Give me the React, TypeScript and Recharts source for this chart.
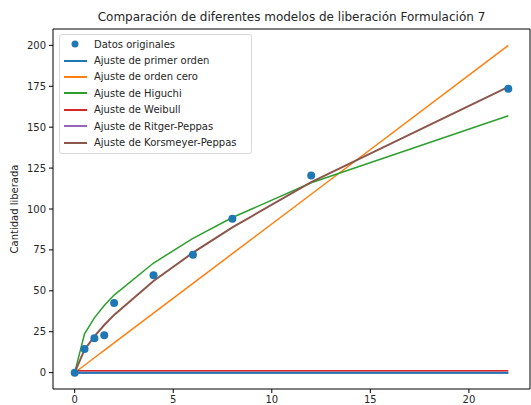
import {
  ComposedChart,
  Line,
  Scatter,
  XAxis,
  YAxis,
  ReferenceLine,
} from "recharts";

// tiempo de muestreo
const tiempos = [0, 0.5, 1, 1.5, 2, 4, 6, 8, 12, 22];
const datosOriginales = [0, 14.5, 21, 22.8, 42.5, 59.5, 72, 94, 120.5, 173.5];
const primerOrden = [0, 0, 0, 0, 0, 0, 0, 0, 0, 0];
const ordenCero = [0, 4.5, 9.1, 13.6, 18.2, 36.4, 54.5, 72.7, 109, 200];
const higuchi = [0, 23.7, 33.5, 41, 47.4, 67, 82, 94.8, 116, 157];
const weibull = [1.2, 1.2, 1.2, 1.2, 1.2, 1.2, 1.2, 1.2, 1.2, 1.2];
const ritgerPeppas = [0, 0, 0, 0, 0, 0, 0, 0, 0, 0];
const korsmeyerPeppas = [0, 14, 22.2, 29.1, 35.3, 56, 73.3, 88.8, 116.4, 174.6];

const xTicks = [0, 5, 10, 15, 20];
const yTicks = [0, 25, 50, 75, 100, 125, 150, 175, 200];
const xDomain = [-1.1, 23.1];
const yDomain = [-10, 210];

const rows = tiempos.map((t, i) => ({
  t,
  datos: datosOriginales[i],
  primer: primerOrden[i],
  cero: ordenCero[i],
  higuchi: higuchi[i],
  weibull: weibull[i],
  ritger: ritgerPeppas[i],
  korsmeyer: korsmeyerPeppas[i],
}));

const legendItems = [
  { name: "Datos originales", color: "#1f77b4", dot: true },
  { name: "Ajuste de primer orden", color: "#1f77b4" },
  { name: "Ajuste de orden cero", color: "#ff7f0e" },
  { name: "Ajuste de Higuchi", color: "#2ca02c" },
  { name: "Ajuste de Weibull", color: "#d62728" },
  { name: "Ajuste de Ritger-Peppas", color: "#9467bd" },
  { name: "Ajuste de Korsmeyer-Peppas", color: "#8c564b" },
];

const font = "'DejaVu Sans', sans-serif";
const tickStyle = { fontSize: 10, fill: "#262626", fontFamily: font };

function LegendBox() {
  return (
    <div
      style={{
        position: "absolute",
        left: 59,
        top: 34,
        width: 183,
        border: "1px solid #d9d9d9",
        borderRadius: 3,
        background: "rgba(255,255,255,0.8)",
        padding: "1px 5px 2px 3px",
        fontFamily: font,
        fontSize: 10,
        color: "#262626",
      }}
    >
      {legendItems.map((it) => (
        <div
          key={it.name}
          style={{ display: "flex", alignItems: "center", height: 16.4 }}
        >
          <svg width={31} height={10}>
            {it.dot ? (
              <circle cx={12} cy={5} r={3.5} fill={it.color} />
            ) : (
              <line x1={1} y1={5} x2={24} y2={5} stroke={it.color} strokeWidth={2} />
            )}
          </svg>
          <span>{it.name}</span>
        </div>
      ))}
    </div>
  );
}

export default function App() {
  return (
    <div style={{ position: "relative", width: 531, height: 405, background: "#fff" }}>
      <style>{`body{margin:0}`}</style>
      <div
        style={{
          position: "absolute",
          left: 53,
          width: 477,
          top: 10,
          textAlign: "center",
          fontFamily: font,
          fontSize: 12,
          color: "#262626",
        }}
      >
        Comparación de diferentes modelos de liberación Formulación 7
      </div>
      <div
        style={{
          position: "absolute",
          left: 14,
          top: 209,
          transform: "translate(-50%, -50%) rotate(-90deg)",
          whiteSpace: "nowrap",
          fontFamily: font,
          fontSize: 10,
          color: "#262626",
        }}
      >
        Cantidad liberada
      </div>
      <ComposedChart
        width={531}
        height={405}
        data={rows}
        margin={{ top: 29, right: 1, bottom: 0, left: 0 }}
      >
        <XAxis
          dataKey="t"
          type="number"
          domain={xDomain}
          ticks={xTicks}
          height={16}
          tickSize={4}
          tickMargin={3}
          tick={tickStyle}
          axisLine={{ stroke: "#000", strokeWidth: 1 }}
          tickLine={{ stroke: "#000" }}
          allowDataOverflow
        />
        <YAxis
          type="number"
          domain={yDomain}
          ticks={yTicks}
          width={53}
          tickSize={4}
          tickMargin={3}
          tick={tickStyle}
          axisLine={{ stroke: "#000", strokeWidth: 1 }}
          tickLine={{ stroke: "#000" }}
          allowDataOverflow
        />
        {/* top and right spines */}
        <ReferenceLine y={yDomain[1]} stroke="#000" strokeWidth={1} ifOverflow="visible" />
        <ReferenceLine x={xDomain[1]} stroke="#000" strokeWidth={1} ifOverflow="visible" />
        <Scatter
          name="Datos originales"
          dataKey="datos"
          fill="#1f77b4"
          shape={(p: any) => <circle cx={p.cx} cy={p.cy} r={4} fill="#1f77b4" />}
          isAnimationActive={false}
        />
        <Line dataKey="ritger" stroke="#9467bd" strokeWidth={2} dot={false} isAnimationActive={false} />
        <Line dataKey="primer" stroke="#1f77b4" strokeWidth={2} dot={false} isAnimationActive={false} />
        <Line dataKey="cero" stroke="#ff7f0e" strokeWidth={1.5} dot={false} isAnimationActive={false} />
        <Line dataKey="higuchi" stroke="#2ca02c" strokeWidth={1.5} dot={false} isAnimationActive={false} />
        <Line dataKey="weibull" stroke="#d62728" strokeWidth={1.5} dot={false} isAnimationActive={false} />
        <Line dataKey="korsmeyer" stroke="#8c564b" strokeWidth={2} dot={false} isAnimationActive={false} />
      </ComposedChart>
      <LegendBox />
    </div>
  );
}
